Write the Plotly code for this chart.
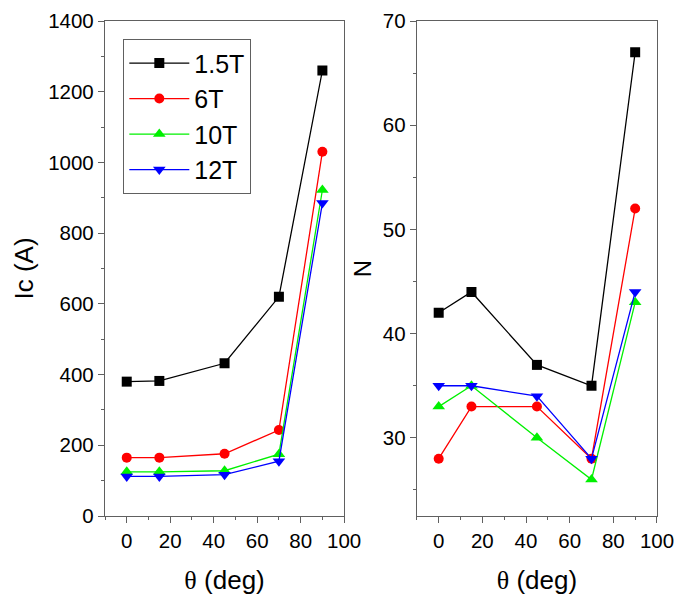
import plotly.graph_objects as go

theta = [0, 15, 45, 70, 90]
series_names = ["1.5T", "6T", "10T", "12T"]
ic_15T = [380, 382, 432, 620, 1260]
ic_6T = [165, 165, 176, 243, 1030]
ic_10T = [125, 125, 128, 175, 922]
ic_12T = [112, 112, 117, 155, 885]
n_15T = [42, 44, 37, 35, 67]
n_6T = [28, 33, 33, 28, 52]
n_10T = [33, 35, 30, 26, 43]
n_12T = [35, 35, 34, 28, 44]

colors = ["#000000", "#ff0000", "#00f000", "#0000ff"]
symbols = ["square", "circle", "triangle-up", "triangle-down"]
msizes = [10, 10, 11, 11]

fig = go.Figure()
ic_data = [ic_15T, ic_6T, ic_10T, ic_12T]
n_data = [n_15T, n_6T, n_10T, n_12T]
for i, name in enumerate(series_names):
    fig.add_trace(go.Scatter(x=theta, y=ic_data[i], mode="lines+markers", name=name,
                             line=dict(color=colors[i], width=1.3),
                             marker=dict(symbol=symbols[i], size=msizes[i], color=colors[i]),
                             xaxis="x", yaxis="y", showlegend=True))
for i, name in enumerate(series_names):
    fig.add_trace(go.Scatter(x=theta, y=n_data[i], mode="lines+markers", name=name,
                             line=dict(color=colors[i], width=1.3),
                             marker=dict(symbol=symbols[i], size=msizes[i], color=colors[i]),
                             xaxis="x2", yaxis="y2", showlegend=False))

font_family = "Liberation Sans, Arial, sans-serif"
axcol = "#606060"
common = dict(showline=True, linecolor=axcol, linewidth=1.3, mirror=True, ticks="outside",
              ticklen=6, tickcolor=axcol, tickwidth=1.3, showgrid=False, zeroline=False,
              automargin=False,
              tickfont=dict(size=20.5, color="#000", family=font_family))
xtitle = dict(text='<span style="font-family:Liberation Serif">θ</span> (deg)',
              font=dict(size=26, color="#000", family=font_family), standoff=20)

# body margin is removed in the page, so figure coords == page coords
W, H = 675, 597
L, T = 105, 21
R = W - 656.7
B = H - 516
PW = W - L - R
PH = H - T - B

fig.update_layout(
    width=W, height=H,
    margin=dict(l=L, r=R, t=T, b=B, autoexpand=False),
    paper_bgcolor="white", plot_bgcolor="white",
    font=dict(family=font_family, color="#000"),
    xaxis=dict(domain=[0, (344 - 105) / PW], range=[-10, 100], dtick=20, anchor="y",
               minor=dict(dtick=10, ticks="outside", ticklen=3, tickcolor=axcol, tickwidth=1.3),
               title=xtitle, **common),
    yaxis=dict(domain=[0, 1], range=[0, 1400], dtick=200, anchor="x",
               minor=dict(dtick=100, ticks="outside", ticklen=3, tickcolor=axcol, tickwidth=1.3),
               title=dict(text="Ic (A)", font=dict(size=26, color="#000", family=font_family), standoff=7),
               **common),
    xaxis2=dict(domain=[(416.7 - 105) / PW, 1], range=[-10, 100], dtick=20, anchor="y2",
                minor=dict(dtick=10, ticks="outside", ticklen=3, tickcolor=axcol, tickwidth=1.3),
                title=xtitle, **common),
    yaxis2=dict(domain=[0, 1], range=[22.5, 70], dtick=10, anchor="x2",
                minor=dict(dtick=5, ticks="outside", ticklen=3, tickcolor=axcol, tickwidth=1.3),
                title=dict(text="N", font=dict(size=24, color="#000", family=font_family), standoff=4),
                **common),
    legend=dict(x=(123 - 105) / PW, y=1 - (39 - 21) / PH, xanchor="left", yanchor="top",
                bordercolor=axcol, borderwidth=1.3, bgcolor="white",
                font=dict(size=25, color="#000", family=font_family),
                itemwidth=60, tracegroupgap=0),
)

fig.write_html("out.html", config={"displayModeBar": False},
               post_script="document.body.style.margin='0';document.documentElement.style.overflow='hidden';")
